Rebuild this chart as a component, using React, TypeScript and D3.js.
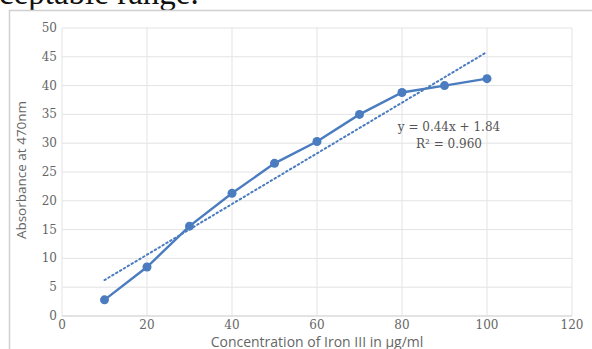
import React from "react";
import * as d3 from "d3";

const concentrations = [10, 20, 30, 40, 50, 60, 70, 80, 90, 100];
const absorbance = [2.8, 8.5, 15.6, 21.3, 26.5, 30.3, 35.0, 38.8, 40.0, 41.2];
const xTicks = [0, 20, 40, 60, 80, 100, 120];
const yTicks = [0, 5, 10, 15, 20, 25, 30, 35, 40, 45, 50];
const slope = 0.44;
const intercept = 1.84;
const trendRange = [10, 100];

const W = 592;
const H = 349;
const left = 62;
const right = 572;
const top = 28;
const bottom = 316;

export default function App() {
  const x = d3.scaleLinear().domain([0, 120]).range([left, right]);
  const y = d3.scaleLinear().domain([0, 50]).range([bottom, top]);
  const pts = concentrations.map((c, i) => [c, absorbance[i]] as [number, number]);
  const line = d3
    .line<[number, number]>()
    .x((d) => x(d[0]))
    .y((d) => y(d[1]));
  const trend: [number, number][] = trendRange.map((v) => [v, slope * v + intercept]);
  const tickFont = "'DejaVu Serif', 'Liberation Serif', serif";
  const sans = "'Open Sans', 'Noto Sans', sans-serif";
  const blue = "#4a7cbf";
  return (
    <svg
      width={W}
      height={H}
      style={{ position: "absolute", left: 0, top: 0, background: "#fff" }}
    >
      <text
        x={-1}
        y={4}
        fontFamily="'Liberation Serif', 'Times New Roman', serif"
        fontSize={33}
        fill="#111"
      >
        ceptable range.
      </text>
      <rect x={9.5} y={10.5} width={W} height={H} fill="#fff" stroke="#d0d0d0" strokeWidth={1.5} />
      {yTicks.map((t) => (
        <line key={"gy" + t} x1={left} x2={right} y1={y(t)} y2={y(t)} stroke="#e3e3e3" strokeWidth={1} />
      ))}
      {xTicks.map((t) => (
        <line key={"gx" + t} x1={x(t)} x2={x(t)} y1={top} y2={bottom} stroke="#e3e3e3" strokeWidth={1} />
      ))}
      <line x1={left} x2={right} y1={bottom} y2={bottom} stroke="#d5d5d5" strokeWidth={1.2} />
      {yTicks.map((t) => (
        <text
          key={"ty" + t}
          x={left - 5}
          y={y(t) + 4}
          textAnchor="end"
          fontFamily={tickFont}
          fontSize={12}
          fill="#666"
        >
          {t}
        </text>
      ))}
      {xTicks.map((t) => (
        <text
          key={"tx" + t}
          x={x(t)}
          y={bottom + 13}
          textAnchor="middle"
          fontFamily={tickFont}
          fontSize={12}
          fill="#666"
        >
          {t}
        </text>
      ))}
      <text
        x={317}
        y={347}
        textAnchor="middle"
        fontFamily={sans}
        fontSize={14}
        fill="#666"
      >
        Concentration of Iron III in µg/ml
      </text>
      <text
        transform={`translate(26, ${(top + bottom) / 2 - 2}) rotate(-90)`}
        textAnchor="middle"
        fontFamily={sans}
        fontSize={13.5}
        fill="#666"
      >
        Absorbance at 470nm
      </text>
      <path
        d={line(trend) || ""}
        fill="none"
        stroke={blue}
        strokeWidth={2}
        strokeDasharray="1.5 3"
        strokeLinecap="round"
      />
      <path d={line(pts) || ""} fill="none" stroke={blue} strokeWidth={2.4} />
      {pts.map((p, i) => (
        <circle key={i} cx={x(p[0])} cy={y(p[1])} r={4.5} fill={blue} />
      ))}
      <text x={449} y={131} textAnchor="middle" fontFamily={tickFont} fontSize={12} fill="#555">
        y = 0.44x + 1.84
      </text>
      <text x={449} y={148} textAnchor="middle" fontFamily={tickFont} fontSize={12} fill="#555">
        R² = 0.960
      </text>
    </svg>
  );
}
